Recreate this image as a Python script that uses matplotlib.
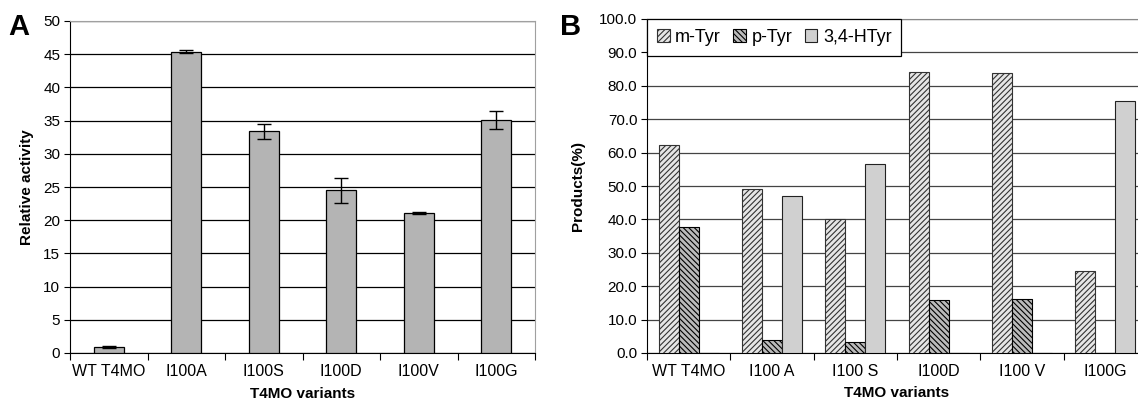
import matplotlib
matplotlib.use("Agg")
import matplotlib.pyplot as plt
import numpy as np

plt.rcParams['font.family'] = ['Liberation Sans', 'DejaVu Sans']
plt.rcParams['hatch.linewidth'] = 0.8

variants = ['WT T4MO', 'I100A', 'I100S', 'I100D', 'I100V', 'I100G']
variants_b = ['WT T4MO', 'I100 A', 'I100 S', 'I100D', 'I100 V', 'I100G']

activity = [0.9, 45.4, 33.4, 24.5, 21.1, 35.1]
activity_err = [0.1, 0.2, 1.1, 1.9, 0.2, 1.3]

m_tyr = [62.4, 49.0, 40.0, 84.2, 83.8, 24.5]
p_tyr = [37.6, 3.8, 3.3, 15.8, 16.3, 0.0]
htyr = [0.0, 47.1, 56.6, 0.0, 0.0, 75.5]

W, H = 1138, 403
fig = plt.figure(figsize=(W / 100, H / 100), dpi=100)

# ---- panel A
axA = fig.add_axes([70 / W, 1 - 353 / H, (535 - 70) / W, (353 - 21) / H])
x = np.arange(len(variants))
axA.bar(x, activity, width=0.39, color='#b4b4b4', edgecolor='black', linewidth=0.9, zorder=3)
axA.errorbar(x, activity, yerr=activity_err, fmt='none', ecolor='black',
             elinewidth=1, capsize=5, capthick=1, zorder=4)
axA.set_xlim(-0.5, 5.5)
axA.set_ylim(0, 50)
axA.set_yticks(range(0, 51, 5))
axA.yaxis.grid(True, color='black', linewidth=0.9, zorder=0)
axA.set_axisbelow(True)
axA.set_xticks(np.arange(-0.5, 6, 1))
axA.set_xticklabels([])
axA.set_xticks(x, minor=True)
axA.set_xticklabels(variants, minor=True, fontsize=11.5)
axA.tick_params(axis='x', which='major', length=5, direction='out')
axA.tick_params(axis='x', which='minor', length=0, pad=8)
axA.tick_params(axis='y', length=4, labelsize=11, pad=3)
for s in ['top', 'right']:
    axA.spines[s].set_color('#a0a0a0')
axA.set_ylabel('Relative activity', fontsize=11, fontweight='bold', labelpad=7)
axA.set_xlabel('T4MO variants', fontsize=11, fontweight='bold', labelpad=6)
fig.text(8 / W, 1 - 27 / H, 'A', fontsize=21, fontweight='bold', va='center')

# ---- panel B
axB = fig.add_axes([647 / W, 1 - 353 / H, 500 / W, (353 - 19) / H])
bw = 0.24
axB.bar(x - bw, m_tyr, width=bw, color='#e6e6e6', edgecolor='#333333', hatch='//////',
        linewidth=0.8, zorder=3, label='m-Tyr')
axB.bar(x, p_tyr, width=bw, color='#bbbbbb', edgecolor='#000000', hatch='\\\\\\\\\\\\',
        linewidth=0.8, zorder=3, label='p-Tyr')
axB.bar(x + bw, htyr, width=bw, color='#d0d0d0', edgecolor='#222222',
        linewidth=0.8, zorder=3, label='3,4-HTyr')
axB.set_xlim(-0.5, 5.5)
axB.set_ylim(0, 100)
axB.set_yticks(range(0, 101, 10))
axB.set_yticklabels([f'{v:.1f}' for v in range(0, 101, 10)])
axB.yaxis.grid(True, color='#444444', linewidth=0.9, zorder=0)
axB.set_axisbelow(True)
axB.set_xticks(np.arange(-0.5, 6, 1))
axB.set_xticklabels([])
axB.set_xticks(x, minor=True)
axB.set_xticklabels(variants_b, minor=True, fontsize=11.5)
axB.tick_params(axis='x', which='major', length=5, direction='out')
axB.tick_params(axis='x', which='minor', length=0, pad=8)
axB.tick_params(axis='y', length=4, labelsize=11, pad=3)
axB.spines['top'].set_color('#888888')
axB.spines['right'].set_visible(False)
axB.set_ylabel('Products(%)', fontsize=11, fontweight='bold', labelpad=10)
axB.set_xlabel('T4MO variants', fontsize=11, fontweight='bold', labelpad=5)
leg = axB.legend(loc='upper left', ncol=3, fontsize=13, frameon=True, fancybox=False,
                 edgecolor='black', framealpha=1, borderaxespad=0, handlelength=0.7,
                 handleheight=0.7, handletextpad=0.3, columnspacing=0.7, borderpad=0.55)
leg.get_frame().set_linewidth(0.9)
fig.text(560 / W, 1 - 27 / H, 'B', fontsize=21, fontweight='bold', va='center')

fig.savefig('out.png', dpi=100)
